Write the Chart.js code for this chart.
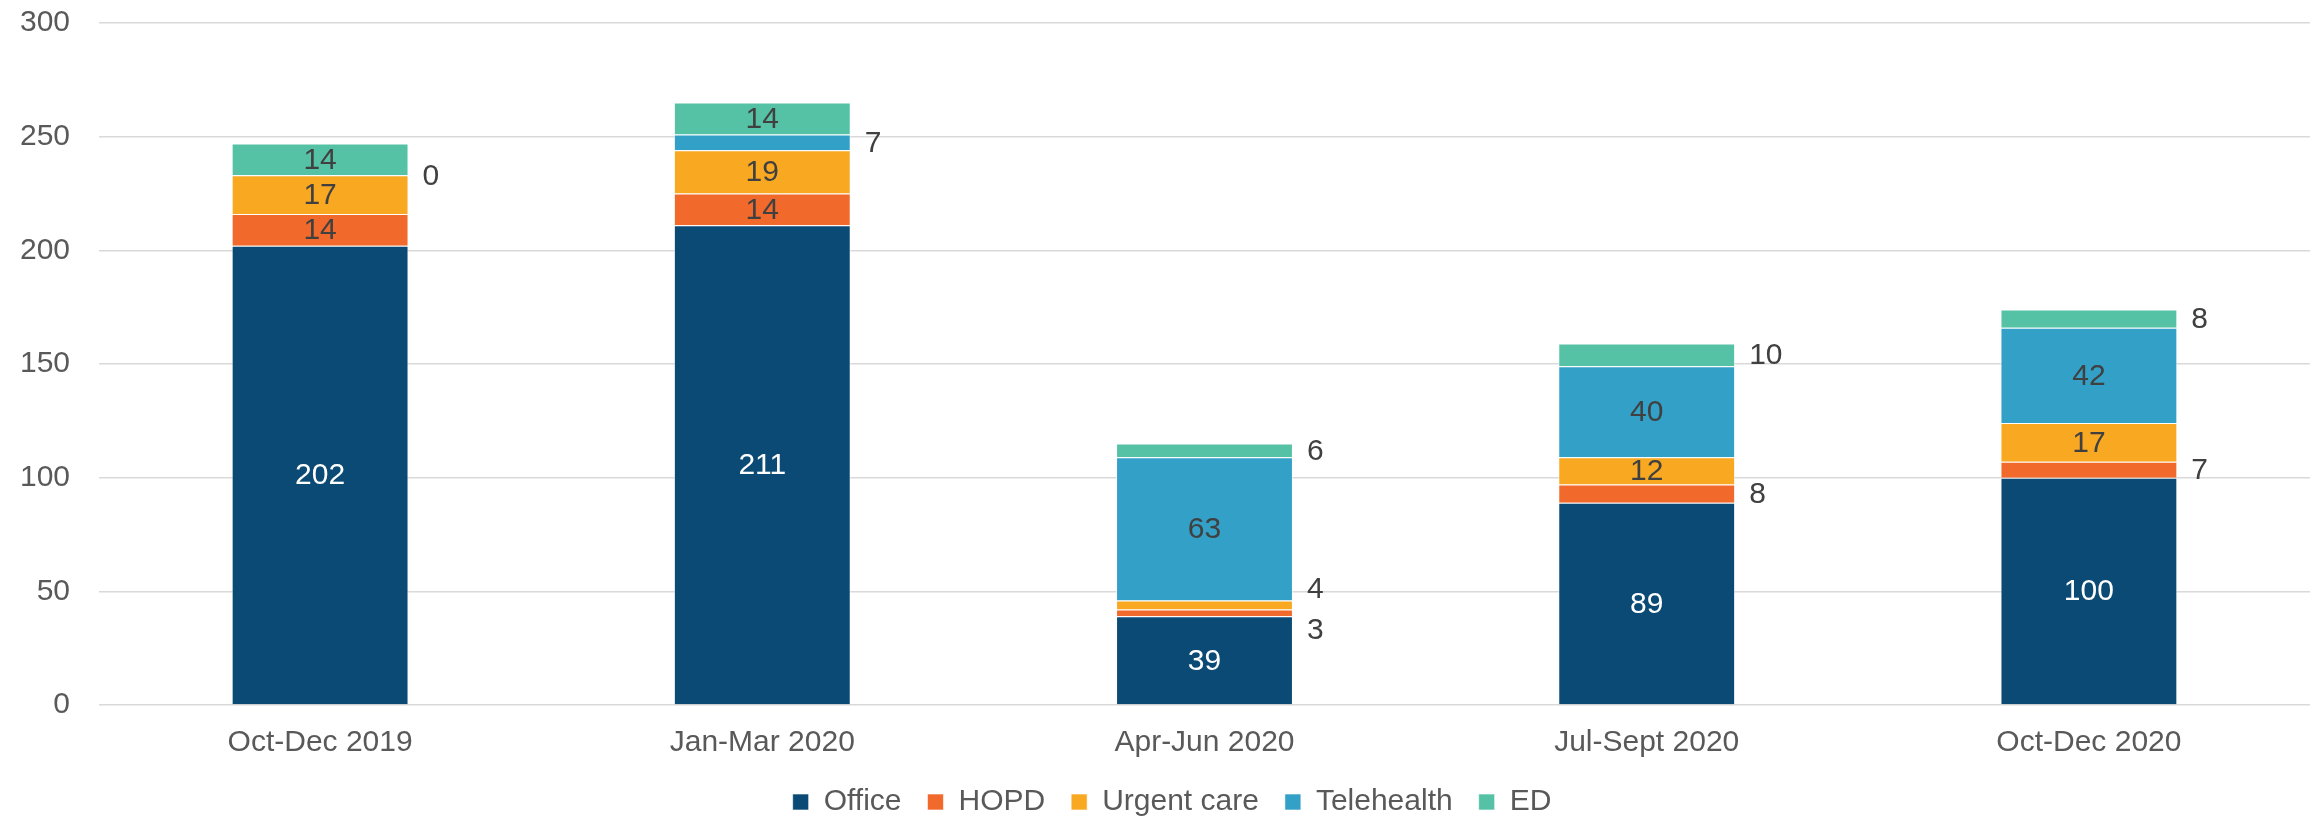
<!DOCTYPE html>
<html>
<head>
<meta charset="utf-8">
<script src="https://cdn.jsdelivr.net/npm/chart.js@4/dist/chart.umd.min.js"></script>
<style>
  html, body { margin: 0; padding: 0; background: #ffffff; }
  #wrap { width: 2310px; height: 819px; }
</style>
</head>
<body>
<div id="wrap"><canvas id="c" width="2310" height="819"></canvas></div>
<script>
const categories = ['Oct-Dec 2019', 'Jan-Mar 2020', 'Apr-Jun 2020', 'Jul-Sept 2020', 'Oct-Dec 2020'];
const seriesNames = ['Office', 'HOPD', 'Urgent care', 'Telehealth', 'ED'];
const office     = [202, 211, 39, 89, 100];
const hopd       = [14, 14, 3, 8, 7];
const urgentCare = [17, 19, 4, 12, 17];
const telehealth = [0, 7, 63, 40, 42];
const ed         = [14, 14, 6, 10, 8];
const yTicks     = [0, 50, 100, 150, 200, 250, 300];

const colors = ['#0b4a75', '#f1692b', '#f9a822', '#33a0c8', '#55c2a6'];
const FONT = '"Liberation Sans", Arial, sans-serif';

const seriesValues = [office, hopd, urgentCare, telehealth, ed];

const segLabels = {
  id: 'segLabels',
  afterDatasetsDraw(chart) {
    const ctx = chart.ctx;
    ctx.save();
    ctx.font = '30px ' + FONT;
    ctx.textBaseline = 'middle';
    const outside = {};
    chart.data.datasets.forEach((ds, di) => {
      const meta = chart.getDatasetMeta(di);
      meta.data.forEach((el, i) => {
        const v = ds.data[i];
        const cy = (el.y + el.base) / 2;
        if (v > 10) {
          ctx.fillStyle = di === 0 ? '#ffffff' : '#404040';
          ctx.textAlign = 'center';
          ctx.fillText(String(v), el.x, cy + 1);
        } else {
          (outside[i] = outside[i] || []).push({ v: v, x: el.x + el.width / 2 + 14, y: cy });
        }
      });
    });
    Object.keys(outside).forEach(k => {
      const list = outside[k];
      list.sort((a, b) => a.y - b.y);
      const gap = 41;
      for (let it = 0; it < 20; it++) {
        for (let j = 1; j < list.length; j++) {
          const d = list[j].y - list[j - 1].y;
          if (d < gap) {
            const s = (gap - d) / 2;
            list[j].y += s;
            list[j - 1].y -= s;
          }
        }
      }
      list.forEach(l => {
        ctx.fillStyle = '#404040';
        ctx.textAlign = 'left';
        ctx.fillText(String(l.v), l.x, l.y + 1);
      });
    });
    ctx.restore();
  }
};

// shift the legend block so it is centred where the reference legend sits
const legendNudge = {
  id: 'legendNudge',
  afterLayout(chart) {
    const l = chart.legend;
    if (!l) return;
    l.left += 34;
  }
};

new Chart(document.getElementById('c'), {
  type: 'bar',
  data: {
    labels: categories,
    datasets: seriesNames.map((name, i) => ({
      label: name,
      data: seriesValues[i],
      backgroundColor: colors[i],
      borderColor: 'rgba(255,255,255,0.6)',
      borderWidth: 1,
      categoryPercentage: 1.0,
      barPercentage: 0.4
    }))
  },
  options: {
    responsive: false,
    animation: false,
    devicePixelRatio: 1,
    layout: { padding: { top: 23, left: 0, right: 0, bottom: 0 } },
    plugins: {
      legend: {
        position: 'bottom',
        maxHeight: 58,
        labels: {
          boxWidth: 16,
          boxHeight: 16,
          padding: 26,
          color: '#595959',
          font: { family: FONT, size: 30 }
        }
      },
      tooltip: { enabled: false }
    },
    scales: {
      x: {
        stacked: true,
        grid: { display: false, drawTicks: false },
        border: { display: false },
        afterFit: (scale) => { scale.height = 56; },
        ticks: {
          color: '#595959',
          padding: 20,
          font: { family: FONT, size: 30 }
        }
      },
      y: {
        stacked: true,
        min: yTicks[0],
        max: yTicks[yTicks.length - 1],
        afterBuildTicks: (scale) => { scale.ticks = yTicks.map(v => ({ value: v })); },
        afterFit: (scale) => { scale.width = 99; },
        grid: { color: '#d9d9d9', lineWidth: 1.5, drawTicks: true, tickLength: 29, tickColor: 'rgba(0,0,0,0)' },
        border: { display: false },
        ticks: {
          color: '#595959',
          padding: 0,
          font: { family: FONT, size: 30 }
        }
      }
    }
  },
  plugins: [segLabels, legendNudge]
});
</script>
</body>
</html>
